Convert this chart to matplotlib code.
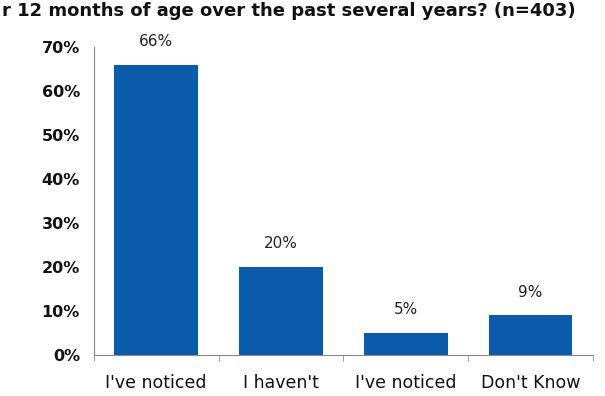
import matplotlib
matplotlib.use("Agg")
import matplotlib.pyplot as plt
from matplotlib.ticker import FuncFormatter, FixedLocator

# Survey responses (share of respondents)
categories = ["I've noticed", "I haven't", "I've noticed", "Don't Know"]
values = [66, 20, 5, 9]
yticks = [0, 10, 20, 30, 40, 50, 60, 70]
title = "r 12 months of age over the past several years? (n=403)"

plt.rcParams['font.family'] = ['DejaVu Sans']

fig = plt.figure(figsize=(6.05, 3.96), dpi=100)
ax = fig.add_axes([0.155, 0.1035, 0.825, 0.778])

x = list(range(len(categories)))
ax.bar(x, values, width=0.67, color='#0A5BAA', zorder=2)

for xi, v in zip(x, values):
    ax.text(xi, v + 5.3, f"{v}%", ha='center', va='center', fontsize=11,
            color='#222222')

ax.set_xlim(-0.5, len(categories) - 0.5)
ax.set_ylim(0, 70)
ax.set_yticks(yticks)
ax.yaxis.set_major_formatter(FuncFormatter(lambda v, p: f"{v:.0f}%"))
ax.tick_params(axis='y', length=0, pad=10, labelsize=11.5, labelcolor='#111111')
for lbl in ax.get_yticklabels():
    lbl.set_fontweight('bold')

ax.set_xticks(x)
ax.set_xticklabels(categories, fontsize=12.5, color='#111111')
ax.xaxis.set_minor_locator(FixedLocator([i - 0.5 for i in range(len(categories) + 1)]))
ax.tick_params(axis='x', which='major', length=0, pad=14)
ax.tick_params(axis='x', which='minor', length=4, color='#888888', direction='out')

for side in ['top', 'right']:
    ax.spines[side].set_visible(False)
for side in ['left', 'bottom']:
    ax.spines[side].set_color('#888888')
    ax.spines[side].set_linewidth(0.8)

fig.text(0.003, 1 - 2 / 396, title, ha='left', va='top', fontsize=13,
         fontweight='bold', color='#111111')

fig.savefig("out.png", dpi=100)
